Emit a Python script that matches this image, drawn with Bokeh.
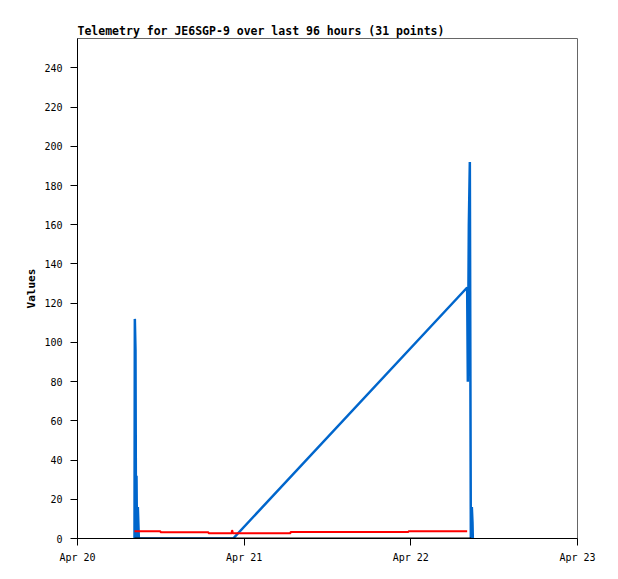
from bokeh.plotting import figure
from bokeh.models import FixedTicker, Range1d
from bokeh.embed import file_html
from bokeh.resources import INLINE

# ---- data (x in days of April) ----
title_text = "Telemetry for JE6SGP-9 over last 96 hours (31 points)"
x_ticks = [20, 21, 22, 23]
x_tick_labels = ["Apr 20", "Apr 21", "Apr 22", "Apr 23"]
y_ticks = [0, 20, 40, 60, 80, 100, 120, 140, 160, 180, 200, 220, 240]

blue_t = [20.342, 20.344, 20.348, 20.351, 20.354, 20.357, 20.362, 20.368,
          20.934, 22.338, 22.342, 22.348, 22.354, 22.360, 22.366, 22.370, 22.372]
blue_v = [0, 112, 96, 0, 32, 0, 16, 0,
          0, 128, 80, 160, 192, 0, 16, 8, 0]

red_t = [20.342, 20.498, 20.786, 20.926, 20.930, 21.278, 21.986, 22.338]
red_v = [3.7, 3.2, 2.7, 4.0, 2.7, 3.3, 3.7, 3.7]

black_t = [20.342, 22.362]
black_v = [0, 0]

FONT = "DejaVu Sans Mono"

p = figure(width=610, height=571, output_backend="svg", toolbar_location=None,
           frame_width=500, frame_height=500,
           x_range=Range1d(20, 23), y_range=Range1d(0, 255),
           min_border_left=77, min_border_right=33, min_border_top=38, min_border_bottom=33,
           title=title_text)

p.title.text_font = FONT
p.title.text_font_size = "11.5px"
p.title.text_font_style = "bold"
p.title.text_color = "black"
p.title.align = "left"
p.title.standoff = 2
p.title.offset = 0

p.grid.visible = False
p.outline_line_color = "#666666"
p.outline_line_width = 1
p.background_fill_color = "white"
p.border_fill_color = "white"

p.line(blue_t, blue_v, line_color="#0066CC", line_width=2.5)
p.step(red_t, red_v, mode="after", line_color="#FF0000", line_width=2)
p.line(black_t, black_v, line_color="#000000", line_width=2)

for ax in (p.xaxis[0], p.yaxis[0]):
    ax.axis_line_color = "black"
    ax.major_tick_line_color = "black"
    ax.major_tick_out = 7
    ax.major_tick_in = 0
    ax.minor_tick_line_color = None
    ax.major_label_text_font = FONT
    ax.major_label_text_font_size = "10px"
    ax.major_label_text_color = "black"

p.xaxis.ticker = FixedTicker(ticks=x_ticks)
p.xaxis.major_label_overrides = {t: l for t, l in zip(x_ticks, x_tick_labels)}
p.xaxis.major_label_standoff = 6

p.yaxis.ticker = FixedTicker(ticks=y_ticks)
p.yaxis.major_label_standoff = 8
p.yaxis.axis_label = "Values"
p.yaxis.axis_label_text_font = FONT
p.yaxis.axis_label_text_font_size = "11px"
p.yaxis.axis_label_text_font_style = "bold"
p.yaxis.axis_label_text_color = "black"
p.yaxis.axis_label_standoff = 3

open("out.html", "w").write(file_html(p, INLINE))
